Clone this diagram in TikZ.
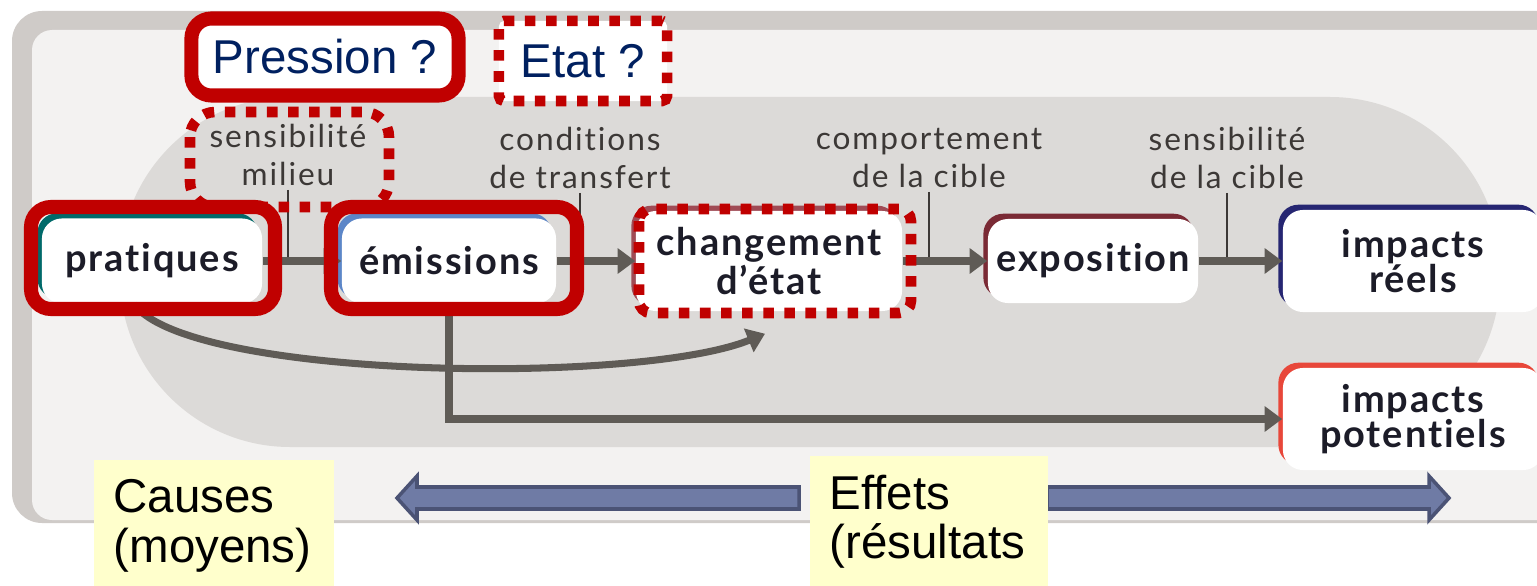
\documentclass[tikz,border=0pt]{standalone}
\usepackage{fontspec}
\setmainfont{Lato}[Ligatures={NoCommon}]
\newfontfamily\arialfont{Liberation Sans}
\usetikzlibrary{calc}
\usetikzlibrary{positioning}
\usetikzlibrary{arrows.meta}
\usetikzlibrary{shadows}
\def\largeur{1537}
\def\hauteur{585}
\definecolor{cadre1}{RGB}{207,203,200}
\definecolor{cadre2}{RGB}{243,242,241}
\definecolor{fond}{RGB}{220,218,216}
\definecolor{gris1}{RGB}{95,91,86}
\definecolor{gris2}{RGB}{60,56,54}
\definecolor{texte1}{RGB}{28,28,40}
\definecolor{rouge1}{RGB}{192,0,0}
\definecolor{marine}{RGB}{0,32,96}
\definecolor{jaune1}{RGB}{255,255,204}
\definecolor{bleu1}{RGB}{111,123,165}
\definecolor{bleu2}{RGB}{75,83,117}
\definecolor{sarcelle}{RGB}{0,106,106}
\definecolor{bleuclair}{RGB}{92,134,200}
\definecolor{rose1}{RGB}{160,75,85}
\definecolor{bordeaux}{RGB}{122,42,53}
\definecolor{indigo1}{RGB}{38,38,114}
\definecolor{corail}{RGB}{232,71,58}

\tikzset{
  etape/.style={fill=white, rounded corners=0.2cm, align=center, text=texte1, inner sep=0pt,
    font=\fontsize{10.8}{10}\selectfont\bfseries\addfontfeature{LetterSpace=5},
    general shadow={fill=#1, shadow xshift=-1.3pt, shadow yshift=1.5pt}},
  etiquette/.style={align=center, text=gris2, inner sep=1pt,
    font=\fontsize{9}{10.8}\selectfont\addfontfeature{LetterSpace=6}},
  fleche/.style={draw=gris1, line width=2pt, -{Triangle[length=5pt,width=7pt]}},
  trait/.style={draw=gris2, line width=0.5pt},
  cadreplein/.style={draw=rouge1, line width=4pt, rounded corners=0.2cm},
  cadretirets/.style={draw=rouge1, line width=3pt, dash pattern=on 3pt off 3pt},
  question/.style={text=marine, font=\arialfont\fontsize{13.5}{15}\selectfont},
  jaune/.style={fill=jaune1, anchor=north west, align=left, inner xsep=0.2cm,
    minimum height=1.32cm, font=\arialfont\fontsize{13.5}{14.2}\selectfont},
  grosse/.style={fill=bleu1, draw=bleu2, line width=1pt}
}

\begin{document}
\begin{tikzpicture}[x=0.01cm,y=-0.01cm]

	\useasboundingbox (0,0) rectangle (\largeur,\hauteur);

	%%% Frame and background
	\fill[cadre1, rounded corners=0.3cm] (12,11) rectangle (1600,523);
	\fill[cadre2, rounded corners=0.2cm] (32,30) rectangle (1600,520);
	\fill[fond, rounded corners=1.7cm] (120,97) rectangle (1500,447);

	%%% Steps
	\node[etape=sarcelle, minimum width=2.2cm, minimum height=0.85cm] (prat) at (152,261) {pratiques};
	\node[etape=bleuclair, minimum width=2.14cm, minimum height=0.85cm] (emi) at (449,261) {émissions};
	\node[etape=rose1, minimum width=2.66cm, minimum height=1cm] (chg) at (769,261) {changement\\d’état};
	\node[etape=bordeaux, minimum width=2.1cm, minimum height=0.84cm] (expo) at (1093,261) {exposition};
	\node[etape=indigo1, minimum width=2.6cm, minimum height=1.02cm] (reel) at (1413,261) {impacts\\réels};
	\node[etape=corail, minimum width=2.6cm, minimum height=1.02cm] (pot) at (1413,419) {impacts\\potentiels};

	%%% Conditions above the chain
	\node[etiquette] (sens) at (288,155) {sensibilité\\milieu};
	\node[etiquette] (cond) at (580,158) {conditions\\de transfert};
	\node[etiquette] (comp) at (929,158) {comportement\\de la cible};
	\node[etiquette] (cible) at (1227,158) {sensibilité\\de la cible};
	\draw[trait] (sens.south) -- (sens.south |- prat.east);
	\draw[trait] (cond.south) -- (cond.south |- emi.east);
	\draw[trait] (comp.south) -- (comp.south |- chg.east);
	\draw[trait] (cible.south) -- (cible.south |- expo.east);

	%%% Arrows
	\draw[fleche] (prat) -- (emi);
	\draw[fleche] (emi) -- (chg);
	\draw[fleche] (chg) -- (expo);
	\draw[fleche] (expo) -- (reel);
	\draw[fleche] ($(prat.south)+(-18,0)$) .. controls (190,380) and (640,385) .. ($(chg.south)+(-4,22)$);
	\draw[fleche] (emi.south) |- (pot.west);

	%%% Red highlights
	\draw[cadreplein] (31,207) rectangle (275,309);
	\draw[cadreplein] (331,207) rectangle (577,309);
	\draw[cadretirets, rounded corners=0.12cm] (639,209) rectangle (911,313);
	\draw[cadretirets, rounded corners=0.25cm] (190,112) rectangle (389,207);
	\node[question, cadreplein, fill=white, minimum width=2.67cm, minimum height=0.77cm] (pression) at (325,57) {Pression ?};
	\node[question, cadretirets, fill=white, rounded corners=0.05cm, minimum width=1.68cm, minimum height=0.8cm] (etat) at (583,61) {Etat ?};

	%%% Causes / effets
	\draw[grosse] (799,487) -- (417,487) -- (417,476) -- (397,498) -- (417,520) -- (417,509) -- (799,509) -- cycle;
	\draw[grosse] (1047,487) -- (1429,487) -- (1429,476) -- (1449,498) -- (1429,520) -- (1429,509) -- (1047,509) -- cycle;
	\node[jaune, text width=2.0cm] (causes) at (93,459) {Causes\\(moyens)};
	\node[jaune, text width=1.98cm] (effets) at (809,455) {Effets\\(résultats};

\end{tikzpicture}
\end{document}
